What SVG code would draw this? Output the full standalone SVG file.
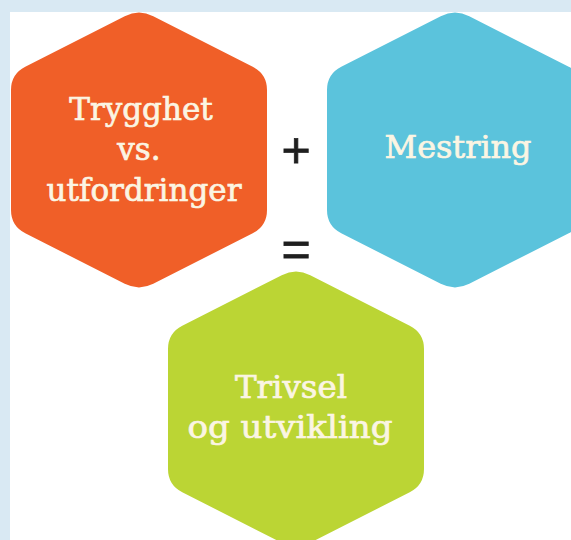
<svg xmlns="http://www.w3.org/2000/svg" xmlns:xlink="http://www.w3.org/1999/xlink" width="571" height="540" viewBox="0 0 571 540">
  <style>
    .label { font-family: "DejaVu Serif", "Liberation Serif", serif; fill: #fbf5e3; stroke: #fbf5e3; stroke-width: 0.7; text-anchor: middle; }
    .op { font-family: "Liberation Sans", Arial, sans-serif; fill: #1f1f1f; stroke: #1f1f1f; stroke-width: 0.8; text-anchor: middle; font-size: 50px; }
  </style>
  <defs>
    <path id="hex" d="M -14.27,-133.76 Q 0,-141 14.27,-133.76 L 113.73,-83.24 Q 128,-76 128,-60 L 128,60 Q 128,76 113.73,83.24 L 14.27,133.76 Q 0,141 -14.27,133.76 L -113.73,83.24 Q -128,76 -128,60 L -128,-60 Q -128,-76 -113.73,-83.24 Z"/>
  </defs>
  <rect x="0" y="0" width="571" height="540" fill="#d9e9f3"/>
  <rect x="10" y="12" width="561" height="528" fill="#ffffff"/>

  <g id="node-trygghet">
    <use xlink:href="#hex" href="#hex" transform="translate(139,150)" fill="#f05f28"/>
    <text class="label" x="141" y="120" font-size="31">Trygghet</text>
    <text class="label" x="139" y="160" font-size="31">vs.</text>
    <text class="label" x="144" y="201" font-size="31">utfordringer</text>
  </g>

  <g id="node-mestring">
    <use xlink:href="#hex" href="#hex" transform="translate(455,150)" fill="#5bc3dc"/>
    <text class="label" x="458" y="158" font-size="31" textLength="147" lengthAdjust="spacingAndGlyphs">Mestring</text>
  </g>

  <g id="node-trivsel">
    <use xlink:href="#hex" href="#hex" transform="translate(296,409)" fill="#bbd534"/>
    <text class="label" x="291" y="398" font-size="31" textLength="112" lengthAdjust="spacingAndGlyphs">Trivsel</text>
    <text class="label" x="290" y="438" font-size="31" textLength="205" lengthAdjust="spacingAndGlyphs">og utvikling</text>
  </g>

  <g id="operators">
    <text class="op" x="296" y="167">+</text>
    <text class="op" x="296" y="266">=</text>
  </g>
</svg>
